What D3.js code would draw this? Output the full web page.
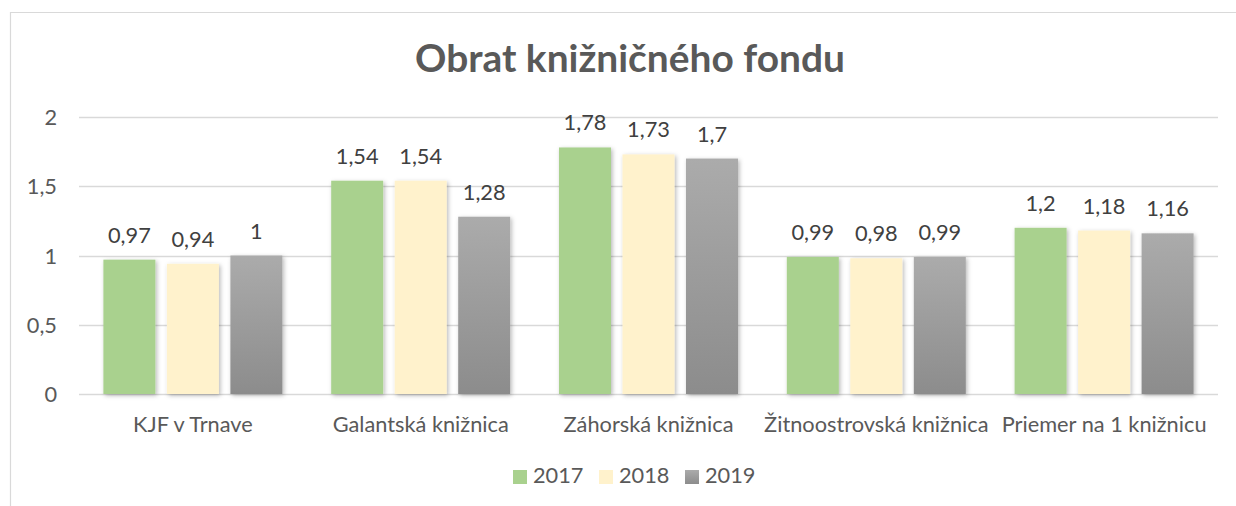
<!DOCTYPE html>
<html>
<head>
<meta charset="utf-8">
<script src="https://cdn.jsdelivr.net/npm/d3@7"></script>
<style>
  html, body { margin: 0; padding: 0; background: #fff; }
  svg { display: block; }
  text { font-family: Lato, "Open Sans", sans-serif; }
</style>
</head>
<body>
<svg id="chart" width="1236" height="506"></svg>
<script>
const title = "Obrat knižničného fondu";
const categories = ["KJF v Trnave", "Galantská knižnica", "Záhorská knižnica", "Žitnoostrovská knižnica", "Priemer na 1 knižnicu"];
const seriesNames = ["2017", "2018", "2019"];
const values2017 = [0.97, 1.54, 1.78, 0.99, 1.2];
const values2018 = [0.94, 1.54, 1.73, 0.98, 1.18];
const values2019 = [1, 1.28, 1.7, 0.99, 1.16];
const yTicks = [0, 0.5, 1, 1.5, 2];
const seriesValues = [values2017, values2018, values2019];

const W = 1236, H = 506;
const M = { left: 79, right: 1218, top: 117, bottom: 394 };
const svg = d3.select("#chart");

const defs = svg.append("defs");
const f = defs.append("filter").attr("id", "shadow").attr("x", "-20%").attr("y", "-10%").attr("width", "150%").attr("height", "130%");
f.append("feDropShadow").attr("dx", 1.5).attr("dy", 1.5).attr("stdDeviation", 2).attr("flood-color", "#000").attr("flood-opacity", 0.28);
const g3 = defs.append("linearGradient").attr("id", "grayGrad").attr("x1", 0).attr("y1", 0).attr("x2", 0).attr("y2", 1);
g3.append("stop").attr("offset", "0%").attr("stop-color", "#ababab");
g3.append("stop").attr("offset", "100%").attr("stop-color", "#8c8c8c");
const fills = ["#a9d18e", "#fff2cc", "url(#grayGrad)"];

// frame
svg.append("path").attr("d", `M10.5,${H} L10.5,12.5 L${W},12.5`).attr("fill", "none").attr("stroke", "#d9d9d9").attr("stroke-width", 1.2);

// font fitting
function fitSize(str, targetW, weight) {
  const t = svg.append("text").attr("font-size", 100).attr("font-weight", weight || "normal").text(str);
  const w = t.node().getComputedTextLength();
  t.remove();
  return 100 * targetW / w;
}
const labelSize = fitSize("Záhorská knižnica", 170);
const titleSize = fitSize(title, 430, "bold");

const x0 = d3.scaleBand().domain(categories).range([M.left, M.right]).paddingInner(0).paddingOuter(0);
const y = d3.scaleLinear().domain([0, 2]).range([M.bottom, M.top]);

// gridlines
svg.append("g").selectAll("line").data(yTicks).join("line")
  .attr("x1", M.left).attr("x2", M.right)
  .attr("y1", d => Math.round(y(d)) + 0.5).attr("y2", d => Math.round(y(d)) + 0.5)
  .attr("stroke", "#d9d9d9").attr("stroke-width", 1.3);

// y axis
const yAxis = d3.axisLeft(y).tickValues(yTicks).tickSize(0).tickPadding(0)
  .tickFormat(d => String(d).replace(".", ","));
const ya = svg.append("g").attr("transform", `translate(${M.left - 22},0)`).call(yAxis);
ya.select(".domain").remove();
ya.selectAll("text").attr("font-size", labelSize).attr("fill", "#595959").attr("font-family", "Lato, sans-serif").attr("dy", "0.35em");

// bars
const barW = 52, barGap = 11.5;
const groupW = 3 * barW + 2 * barGap;
const x1 = d3.scaleBand().domain(seriesNames).range([0, groupW]).paddingInner(barGap / (barW + barGap)).paddingOuter(0);

const groups = svg.append("g").selectAll("g").data(categories).join("g")
  .attr("transform", d => `translate(${x0(d) + (x0.bandwidth() - groupW) / 2},0)`);

groups.each(function(cat, ci) {
  const g = d3.select(this);
  seriesNames.forEach((s, si) => {
    const v = seriesValues[si][ci];
    g.append("rect")
      .attr("x", x1(s)).attr("width", x1.bandwidth())
      .attr("y", y(v)).attr("height", y(0) - y(v))
      .attr("fill", fills[si]).attr("filter", "url(#shadow)");
  });
});
groups.each(function(cat, ci) {
  const g = d3.select(this);
  seriesNames.forEach((s, si) => {
    const v = seriesValues[si][ci];
    g.append("text")
      .attr("x", x1(s) + x1.bandwidth() / 2).attr("y", y(v) - 17)
      .attr("text-anchor", "middle").attr("font-size", labelSize).attr("fill", "#404040")
      .text(String(v).replace(".", ","));
  });
});

// x axis
const xAxis = d3.axisBottom(x0).tickSize(0).tickPadding(0);
const xa = svg.append("g").attr("transform", `translate(0,${M.bottom})`).call(xAxis);
xa.select(".domain").remove();
xa.selectAll("text").attr("font-size", labelSize).attr("fill", "#595959").attr("font-family", "Lato, sans-serif").attr("y", 38).attr("dy", 0);

// title
svg.append("text").attr("x", 630).attr("y", 72).attr("text-anchor", "middle")
  .attr("font-size", titleSize).attr("font-weight", "bold").attr("fill", "#595959").text(title);

// legend
const legendX = [513, 599, 685];
const lg = svg.append("g").selectAll("g").data(seriesNames).join("g")
  .attr("transform", (d, i) => `translate(${legendX[i]},470)`);
lg.append("rect").attr("width", 14).attr("height", 14).attr("fill", (d, i) => fills[i]);
lg.append("text").attr("x", 20).attr("y", 13).attr("font-size", labelSize).attr("fill", "#595959").text(d => d);
</script>
</body>
</html>
